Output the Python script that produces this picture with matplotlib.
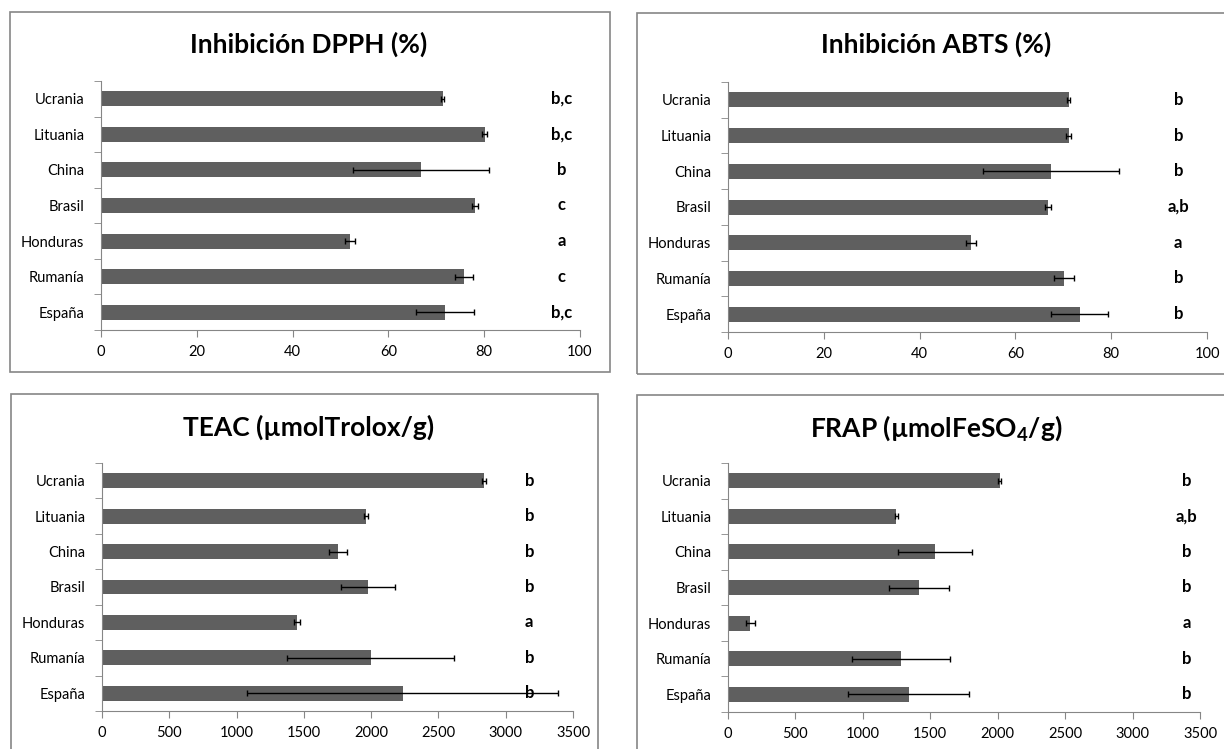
import matplotlib
matplotlib.use("Agg")
import matplotlib.pyplot as plt
import matplotlib.transforms as mtransforms
from matplotlib.patches import Rectangle
import numpy as np

plt.rcParams['font.family'] = ['Lato', 'DejaVu Sans']
plt.rcParams['mathtext.default'] = 'regular'

paises = ["Ucrania", "Lituania", "China", "Brasil", "Honduras", "Rumanía", "España"]

dpph = [71.3, 80.1, 66.9, 78.1, 52.0, 75.8, 71.8]
dpph_err = [0.4, 0.5, 14.2, 0.7, 1.1, 1.9, 6.0]
dpph_letras = ["b,c", "b,c", "b", "c", "a", "c", "b,c"]

abts = [71.1, 71.1, 67.5, 66.8, 50.7, 70.1, 73.4]
abts_err = [0.4, 0.5, 14.2, 0.6, 1.0, 2.1, 6.0]
abts_letras = ["b", "b", "b", "a,b", "a", "b", "b"]

teac = [2838, 1959, 1753, 1976, 1448, 1997, 2234]
teac_err = [13, 15, 65, 200, 20, 620, 1155]
teac_letras = ["b", "b", "b", "b", "a", "b", "b"]

frap = [2014, 1249, 1536, 1417, 165, 1284, 1339]
frap_err = [10, 10, 275, 220, 32, 365, 448]
frap_letras = ["b", "a,b", "b", "b", "a", "b", "b"]

W, H = 1224, 749
fig = plt.figure(figsize=(W / 100, H / 100), dpi=100)

gris = "#868686"
barra = "#5f5f5f"


def caja(l, t, r, b):
    # marco gris de cada gráfico, en píxeles de la figura
    fig.patches.append(Rectangle((l / W, 1 - b / H), (r - l) / W, (b - t) / H,
                                 transform=fig.transFigure, fill=False,
                                 edgecolor=gris, linewidth=1.2))


def panel(l, t, r, b, valores, errores, letras, xmax, paso, titulo, tx, ty, lx):
    ax = fig.add_axes([l / W, 1 - b / H, (r - l) / W, (b - t) / H])
    y = np.arange(len(paises))
    ax.barh(y, valores, height=0.42, color=barra, zorder=2)
    ax.errorbar(valores, y, xerr=errores, fmt='none', ecolor='black',
                elinewidth=1, capsize=2.5, capthick=1, zorder=3)
    ax.set_ylim(len(paises) - 0.5, -0.5)
    ax.set_xlim(0, xmax)
    ax.set_xticks(np.arange(0, xmax + paso / 2, paso))
    ax.set_yticks(y)
    ax.set_yticklabels(paises)
    # marcas entre categorías, como en Excel
    ax.set_yticks(np.arange(-0.5, len(paises)), minor=True)
    ax.tick_params(axis='y', which='major', length=0, pad=12, labelsize=10.5)
    ax.tick_params(axis='y', which='minor', length=5, color=gris, direction='out')
    ax.tick_params(axis='x', length=5, color=gris, direction='out', labelsize=10.5, pad=6)
    for s in ['top', 'right']:
        ax.spines[s].set_visible(False)
    for s in ['left', 'bottom']:
        ax.spines[s].set_color(gris)
    ax.set_facecolor('none')
    trans = mtransforms.blended_transform_factory(ax.transAxes, ax.transData)
    for yi, txt in zip(y, letras):
        ax.text(lx, yi, txt, transform=trans, ha='center', va='center',
                fontsize=12, fontweight='bold', clip_on=False)
    fig.text(tx / W, 1 - ty / H, titulo, ha='center', va='center',
             fontsize=19, fontweight='bold')
    return ax


caja(10, 12, 610, 372)
caja(637, 13, 1240, 374)
caja(11, 394, 598, 760)
caja(637, 395, 1240, 760)

panel(101, 81, 580, 330, dpph, dpph_err, dpph_letras, 100, 20,
      "Inhibición DPPH (%)", 309, 44, 0.962)
panel(728, 82, 1207, 332, abts, abts_err, abts_letras, 100, 20,
      "Inhibición ABTS (%)", 936, 44, 0.94)
panel(102, 463, 573, 711, teac, teac_err, teac_letras, 3500, 500,
      "TEAC (µmolTrolox/g)", 309, 427, 0.907)
panel(728, 463, 1200, 712, frap, frap_err, frap_letras, 3500, 500,
      "FRAP (µmolFeSO$_4$/g)", 936, 428, 0.972)

fig.savefig("out.png", dpi=100, facecolor='white')
